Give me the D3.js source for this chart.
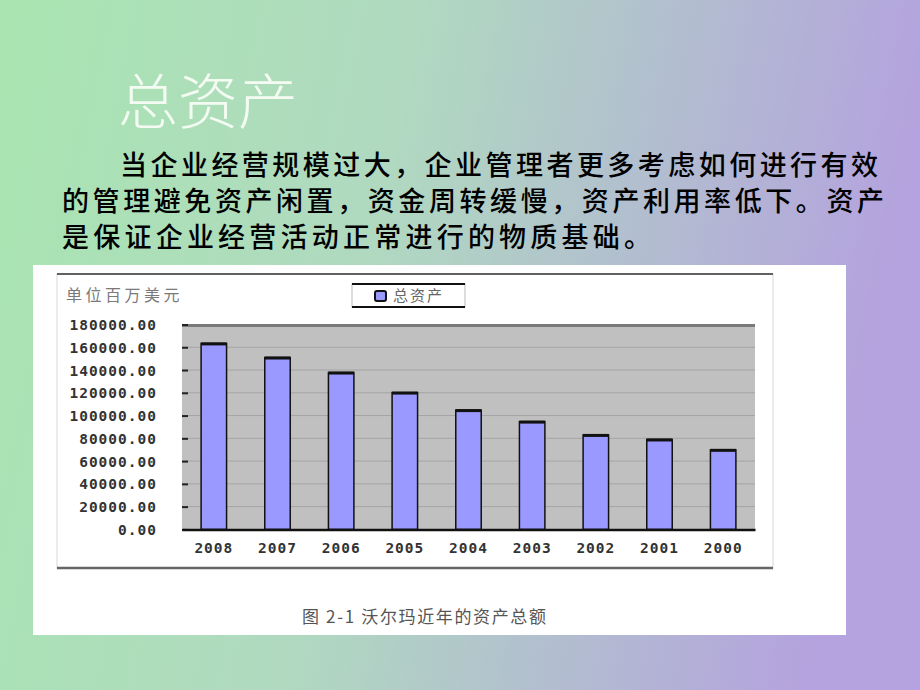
<!DOCTYPE html>
<html><head><meta charset="utf-8">
<script src="https://cdn.jsdelivr.net/npm/d3@7"></script>
<style>html,body{margin:0;padding:0;overflow:hidden;}</style>
</head><body>
<script>
const years = ["2008","2007","2006","2005","2004","2003","2002","2001","2000"];
const totalAssets = [163400, 151000, 137800, 120200, 104800, 94700, 83000, 79000, 69900];
const yTicks = [0,20000,40000,60000,80000,100000,120000,140000,160000,180000];
const seriesName = "总资产";
const unitLabel = "单位百万美元";
const caption = "图 2-1 沃尔玛近年的资产总额";
const title = "总资产";
const paragraph = ["当企业经营规模过大，企业管理者更多考虑如何进行有效",
                   "的管理避免资产闲置，资金周转缓慢，资产利用率低下。资产",
                   "是保证企业经营活动正常进行的物质基础。"];

const W = 920, H = 690;
const svg = d3.select("body").append("svg").attr("width", W).attr("height", H);
const defs = svg.append("defs");
const bg = defs.append("linearGradient").attr("id","bg").attr("x1","0").attr("y1","0").attr("x2","1").attr("y2","0.15");
bg.append("stop").attr("offset","0").attr("stop-color","#a9e5b1");
bg.append("stop").attr("offset","0.45").attr("stop-color","#b0d9c0");
bg.append("stop").attr("offset","1").attr("stop-color","#b4a3de");
svg.append("rect").attr("width",W).attr("height",H).attr("fill","url(#bg)");

// title
svg.append("text").attr("x",118).attr("y",124).text(title)
  .attr("font-family","'Noto Sans CJK SC'").attr("font-weight",300).attr("font-size",60)
  .attr("fill","#f4fbf2");

// paragraph
const px = [120, 62, 62], py = [175, 211, 247], pw = [758, 822, 589];
paragraph.forEach((t,i)=>{
  svg.append("text").attr("x",px[i]).attr("y",py[i]).text(t)
    .attr("font-family","'Noto Sans CJK SC'").attr("font-size",27).attr("font-weight",500)
    .attr("textLength",pw[i]).attr("lengthAdjust","spacing")
    .attr("fill","#000");
});

// white panel
svg.append("rect").attr("x",33).attr("y",265).attr("width",813).attr("height",370).attr("fill","#fff");

// chart frame
svg.append("rect").attr("x",57).attr("y",274).attr("width",716).attr("height",294)
  .attr("fill","#fff").attr("stroke","#d8d8d8").attr("stroke-width",1);
svg.append("line").attr("x1",57).attr("x2",773).attr("y1",274).attr("y2",274).attr("stroke","#333").attr("stroke-width",1.5);
svg.append("line").attr("x1",57).attr("x2",773).attr("y1",568).attr("y2",568).attr("stroke","#666").attr("stroke-width",2.5);

// plot area
const pl = 182, pr = 755, pt = 324.5, pb = 529.4;
const x = d3.scaleBand().domain(years).range([pl, pr]).paddingInner(0.6).paddingOuter(0.3);
const y = d3.scaleLinear().domain([0,180000]).range([pb, pt]);

svg.append("rect").attr("x",pl).attr("y",pt).attr("width",pr-pl).attr("height",pb-pt).attr("fill","#c0c0c0");
// gridlines
svg.append("g").selectAll("line").data(yTicks.filter(d=>d>0 && d<180000)).join("line")
  .attr("x1",pl).attr("x2",pr).attr("y1",d=>y(d)).attr("y2",d=>y(d))
  .attr("stroke","#a4a4a4").attr("stroke-width",1);
svg.append("line").attr("x1",pl).attr("x2",pr).attr("y1",pt+1).attr("y2",pt+1).attr("stroke","#7a7a7a").attr("stroke-width",3);

// y axis
const yAxis = d3.axisLeft(y).tickValues(yTicks).tickSize(-6).tickPadding(25).tickFormat(d3.format(".2f"));
const ga = svg.append("g").attr("transform",`translate(${pl},0)`).call(yAxis);
ga.select(".domain").remove();
ga.selectAll(".tick line").attr("stroke","#222").attr("stroke-width",2);
ga.selectAll(".tick text").attr("font-family","'DejaVu Sans Mono'").attr("font-weight","bold")
  .attr("font-size",14.5).attr("letter-spacing",1).attr("fill","#333").attr("dy","0.35em");

// bars
svg.append("g").selectAll("rect").data(years).join("rect")
  .attr("x",d=>x(d)).attr("width",x.bandwidth())
  .attr("y",(d,i)=>y(totalAssets[i])).attr("height",(d,i)=>pb - y(totalAssets[i]))
  .attr("fill","#9999ff").attr("stroke","#111").attr("stroke-width",1.5);
svg.append("g").selectAll("line").data(years).join("line")
  .attr("x1",d=>x(d)).attr("x2",d=>x(d)+x.bandwidth())
  .attr("y1",(d,i)=>y(totalAssets[i])+0.5).attr("y2",(d,i)=>y(totalAssets[i])+0.5)
  .attr("stroke","#111").attr("stroke-width",3);

// x axis
const xAxis = d3.axisBottom(x).tickSize(0).tickPadding(13);
const gx = svg.append("g").attr("transform",`translate(0,${pb})`).call(xAxis);
gx.select(".domain").attr("stroke","#111").attr("stroke-width",2.5);
gx.selectAll(".tick text").attr("font-family","'DejaVu Sans Mono'").attr("font-weight","bold")
  .attr("font-size",14.5).attr("letter-spacing",1).attr("fill","#333");

// unit label
svg.append("text").attr("x",66).attr("y",301).text(unitLabel)
  .attr("font-family","'Noto Sans CJK SC'").attr("font-size",16).attr("letter-spacing",3.5).attr("fill","#7a7a7a");

// legend
const lg = svg.append("g");
lg.append("rect").attr("x",352).attr("y",284).attr("width",113).attr("height",23).attr("fill","#fff")
  .attr("stroke","#bbb").attr("stroke-width",1);
lg.append("line").attr("x1",352).attr("x2",465).attr("y1",284).attr("y2",284).attr("stroke","#111").attr("stroke-width",2);
lg.append("line").attr("x1",352).attr("x2",465).attr("y1",307).attr("y2",307).attr("stroke","#111").attr("stroke-width",2);
lg.append("rect").attr("x",375).attr("y",291).attr("width",11).attr("height",10).attr("rx",2)
  .attr("fill","#9999ff").attr("stroke","#111").attr("stroke-width",2);
lg.append("text").attr("x",393).attr("y",301).text(seriesName)
  .attr("font-family","'Noto Sans CJK SC'").attr("font-size",15).attr("letter-spacing",2).attr("fill","#666");

// caption
svg.append("text").attr("x",302).attr("y",623).text(caption)
  .attr("font-family","'Noto Sans CJK SC'").attr("font-size",17)
  .attr("textLength",244).attr("lengthAdjust","spacing").attr("fill","#555");
</script>
</body></html>
